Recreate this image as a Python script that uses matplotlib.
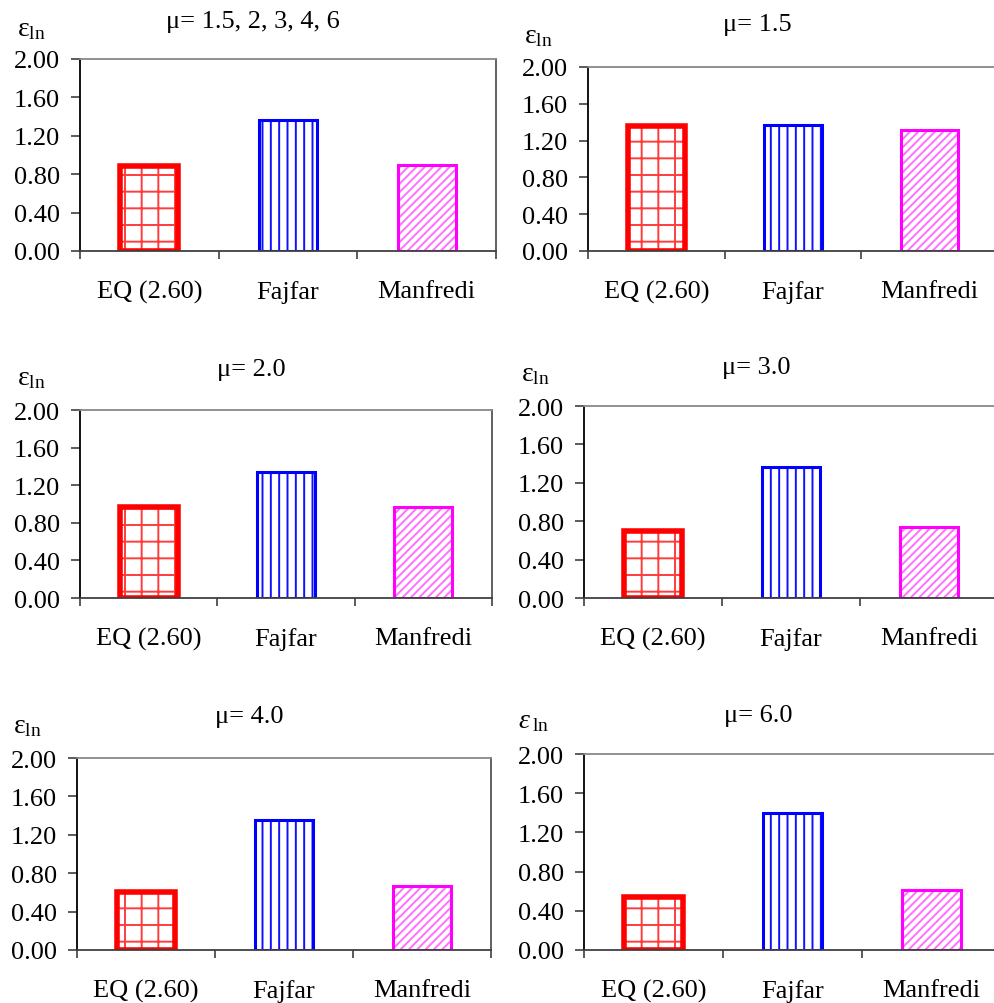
import matplotlib
matplotlib.use("Agg")
import matplotlib.pyplot as plt
import numpy as np

categories = ["EQ (2.60)", "Fajfar", "Manfredi"]
titles = ["μ= 1.5, 2, 3, 4, 6", "μ= 1.5", "μ= 2.0", "μ= 3.0", "μ= 4.0", "μ= 6.0"]
eq_vals = [0.89, 1.36, 0.97, 0.70, 0.60, 0.54]
fajfar_vals = [1.36, 1.37, 1.34, 1.36, 1.35, 1.40]
manfredi_vals = [0.90, 1.32, 0.97, 0.74, 0.67, 0.61]
yticks = [0.0, 0.4, 0.8, 1.2, 1.6, 2.0]

plt.rcParams['font.family'] = ['Liberation Serif', 'DejaVu Serif']
plt.rcParams['mathtext.fontset'] = 'custom'
plt.rcParams['mathtext.rm'] = 'Liberation Serif'
plt.rcParams['mathtext.it'] = 'Liberation Serif:italic'
plt.rcParams['mathtext.bf'] = 'Liberation Serif:bold'
plt.rcParams['hatch.linewidth'] = 1.4

W, H = 994, 1004
fig = plt.figure(figsize=(W / 100, H / 100), dpi=100)

# axes boxes in pixel coords: left, right, top, bottom
boxes = [
    (80, 496, 60, 252),
    (588, 998, 68, 252),
    (80, 492, 411, 599),
    (584, 998, 407, 599),
    (77, 491, 759, 951),
    (584, 1001, 755, 951),
]
title_pos = [(253, 22), (757, 25), (251, 370), (756, 368), (249, 717), (758, 716)]
ylab_pos = [(17, 30), (524, 37), (17, 379), (521, 375), (13, 727), (518, 722)]

styles = [
    dict(edge='#ff0000', hatchc='#ff3c3c', hatch='+', lw=4.0),
    dict(edge='#0000ff', hatchc='#1010ff', hatch='||', lw=2.2),
    dict(edge='#ff00ff', hatchc='#ff70ff', hatch='////', lw=2.2),
]

for i in range(6):
    l, r, t, b = boxes[i]
    ax = fig.add_axes([l / W, 1 - b / H, (r - l) / W, (b - t) / H])
    x = np.arange(len(categories))
    vals = [eq_vals[i], fajfar_vals[i], manfredi_vals[i]]
    for j in range(3):
        st = styles[j]
        ax.bar(x[j], vals[j], width=0.42, color='white', edgecolor=st['hatchc'],
               hatch=st['hatch'], linewidth=0, zorder=2)
        ax.bar(x[j], vals[j], width=0.42, fill=False, edgecolor=st['edge'],
               linewidth=st['lw'], zorder=3)
    ax.set_xlim(-0.5, 2.5)
    ax.set_ylim(0, 2.0)
    ax.set_yticks(yticks)
    ax.set_yticklabels([f"{v:.2f}" for v in yticks], fontsize=19)
    ax.set_xticks([-0.5, 0.5, 1.5, 2.5])
    ax.set_xticklabels([])
    ax.set_xticks(x, minor=True)
    ax.set_xticklabels(categories, minor=True, fontsize=19)
    ax.tick_params(axis='x', which='major', direction='out', length=6, width=1.2,
                   color='#404040')
    ax.tick_params(axis='x', which='minor', length=0, pad=21)
    ax.tick_params(axis='y', direction='out', length=6.5, width=1.2, pad=8,
                   color='#404040')
    ax.spines['top'].set_color('#888888')
    ax.spines['right'].set_color('#555555')
    ax.spines['left'].set_color('#000000')
    ax.spines['bottom'].set_color('#404040')
    for s in ax.spines.values():
        s.set_linewidth(1.3)
    ax.spines['bottom'].set_zorder(4)
    tx, ty = title_pos[i]
    fig.text(tx / W, 1 - ty / H, titles[i], ha='center', va='center', fontsize=19)
    yx, yy = ylab_pos[i]
    label = r'$\mathrm{ε}_{\mathrm{ln}}$'
    if i == 5:
        label = r'$\mathit{ε}\,_{\mathrm{ln}}$'
    fig.text(yx / W, 1 - yy / H, label, ha='left', va='center', fontsize=20)

fig.savefig("out.png", dpi=100)
